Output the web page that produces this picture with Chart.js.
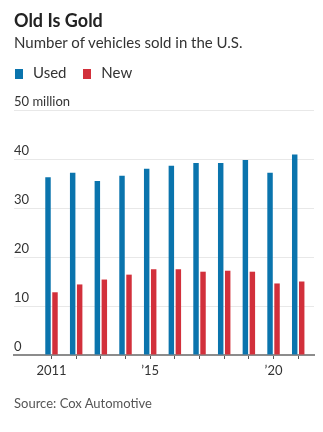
<!DOCTYPE html>
<html>
<head>
<meta charset="utf-8">
<script src="https://cdn.jsdelivr.net/npm/chart.js@4"></script>
<style>
  html, body { margin: 0; padding: 0; background: #fff; }
  body { width: 323px; height: 432px; position: relative; overflow: hidden; font-family: Lato, "Noto Sans", sans-serif; }
  #chartWrap { position: absolute; left: 0; top: 0; width: 323px; height: 432px; }
  .title { position: absolute; left: 14px; top: 10px; font-size: 18px; font-weight: 700; color: #222; line-height: 1.2; white-space: nowrap; }
  .subtitle { position: absolute; left: 14px; top: 33px; font-size: 15px; color: #333; line-height: 1.2; white-space: nowrap; }
  .legend { position: absolute; left: 14px; top: 63px; font-size: 15px; color: #333; line-height: 1.2; white-space: nowrap; }
  .legend span.item { display: inline-block; margin-right: 12px; }
  .legend i { display: inline-block; width: 8px; height: 10px; margin: 0 10px 0 1px; vertical-align: -1px; }
  .source { position: absolute; left: 14px; top: 396px; font-size: 13px; color: #555; line-height: 1.2; white-space: nowrap; }
</style>
</head>
<body>
<div id="chartWrap"><canvas id="soldChart" width="323" height="432"></canvas></div>
<div class="title">Old Is Gold</div>
<div class="subtitle">Number of vehicles sold in the U.S.</div>
<div class="legend" id="legend"></div>
<div class="source">Source: Cox Automotive</div>
<script>
// Data (million vehicles)
const years = [2011, 2012, 2013, 2014, 2015, 2016, 2017, 2018, 2019, 2020, 2021];
const usedSales = [36.3, 37.2, 35.5, 36.6, 38.0, 38.6, 39.2, 39.2, 39.8, 37.2, 40.9];
const newSales = [12.8, 14.4, 15.4, 16.4, 17.5, 17.5, 17.0, 17.2, 17.0, 14.6, 15.0];
const xTickLabels = { 2011: '2011', 2015: '\u201915', 2020: '\u201920' };
const yTicks = [0, 10, 20, 30, 40, 50];

const seriesNames = ['Used', 'New'];
const seriesColors = ['#0a74ad', '#d2303b'];

// Build legend
function buildLegend() {
  const el = document.getElementById('legend');
  el.innerHTML = seriesNames.map((name, i) => `
    <span class="item"><i style="background:${seriesColors[i]}"></i>${name}</span>
  `).join('');
}

function makeChart() {
  const ctx = document.getElementById('soldChart');
  const tickFont = { family: 'Lato', size: 13 };

  new Chart(ctx, {
    type: 'bar',
    data: {
      datasets: [
        {
          label: seriesNames[0],
          data: years.map((y, i) => ({ x: y, y: usedSales[i] })),
          backgroundColor: seriesColors[0]
        },
        {
          label: seriesNames[1],
          data: years.map((y, i) => ({ x: y, y: newSales[i] })),
          backgroundColor: seriesColors[1]
        }
      ]
    },
    options: {
      responsive: false,
      animation: false,
      categoryPercentage: 0.567,
      barPercentage: 0.78,
      layout: { padding: { top: 110, left: 14, right: 9, bottom: 55 } },
      plugins: {
        legend: { display: false },
        tooltip: { enabled: false }
      },
      scales: {
        x: {
          type: 'linear',
          min: 2009.48,
          max: 2021.64,
          offset: false,
          afterBuildTicks: function(scale) {
            scale.ticks = years.map(v => ({ value: v }));
          },
          afterFit: function(scale) {
            scale.height = 22;
          },
          ticks: {
            font: tickFont,
            color: '#333',
            padding: 4,
            maxRotation: 0,
            autoSkip: false,
            callback: function(value) {
              return xTickLabels[value] || '';
            }
          },
          grid: {
            offset: false,
            drawOnChartArea: false,
            drawTicks: true,
            tickLength: 4,
            tickColor: '#555',
            tickWidth: 1
          },
          border: { display: true, color: '#8c8c8c', width: 2 }
        },
        y: {
          min: 0,
          max: 50,
          afterBuildTicks: function(scale) {
            scale.ticks = yTicks.map(v => ({ value: v }));
          },
          afterFit: function(scale) {
            scale.width = 0;
          },
          ticks: {
            mirror: true,
            padding: 0,
            labelOffset: -8,
            font: tickFont,
            color: '#333',
            callback: function(value) {
              return value === 50 ? '50 million' : value;
            }
          },
          grid: {
            color: '#e8e8e8',
            lineWidth: 1,
            drawTicks: false
          },
          border: { display: false }
        }
      }
    }
  });
}

document.addEventListener('DOMContentLoaded', function() {
  buildLegend();
  makeChart();
});
</script>
</body>
</html>
